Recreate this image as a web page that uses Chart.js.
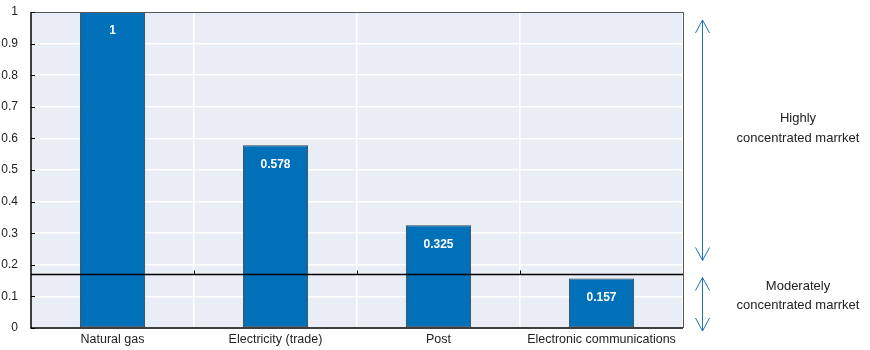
<!DOCTYPE html>
<html lang="en">
<head>
    <meta charset="UTF-8">
    <title>Market concentration</title>
    <script src="https://cdn.jsdelivr.net/npm/chart.js"></script>
    <style>
        html, body { margin: 0; padding: 0; background: #fff; }
        #wrap { width: 870px; height: 350px; position: relative; }
    </style>
</head>
<body>
    <div id="wrap"><canvas id="chart"></canvas></div>

    <script>
        // data
        const categories = ['Natural gas', 'Electricity (trade)', 'Post', 'Electronic communications'];
        const values = [1, 0.578, 0.325, 0.157];
        const valueLabels = ['1', '0.578', '0.325', '0.157'];
        const threshold = 0.17;
        const zoneLabels = [['Highly', 'concentrated marrket'], ['Moderately', 'concentrated marrket']];

        const FONT = '"Liberation Sans", Arial, sans-serif';

        // plot background, axis frame, threshold line and the side notes
        const decor = {
            id: 'decor',
            beforeDraw(chart) {
                const { ctx, chartArea: a } = chart;
                ctx.save();
                ctx.fillStyle = '#E9EDF6';
                ctx.fillRect(a.left, a.top, a.right - a.left, a.bottom - a.top);
                ctx.restore();
            },
            afterDatasetsDraw(chart) {
                const { ctx, chartArea: a, scales } = chart;
                const y = scales.y, x = scales.x;
                ctx.save();
                // frame
                ctx.strokeStyle = '#555';
                ctx.lineWidth = 1;
                ctx.beginPath();
                ctx.moveTo(a.left, a.top + 0.5);
                ctx.lineTo(a.right + 0.5, a.top + 0.5);
                ctx.lineTo(a.right + 0.5, a.bottom);
                ctx.stroke();
                ctx.strokeStyle = '#000';
                ctx.lineWidth = 1.5;
                ctx.beginPath();
                ctx.moveTo(a.left, a.top);
                ctx.lineTo(a.left, a.bottom);
                ctx.lineTo(a.right, a.bottom);
                ctx.stroke();
                // y ticks inside
                ctx.lineWidth = 1;
                y.ticks.forEach(t => {
                    const py = Math.round(y.getPixelForValue(t.value)) + 0.5;
                    ctx.beginPath();
                    ctx.moveTo(a.left, py);
                    ctx.lineTo(a.left + 4, py);
                    ctx.stroke();
                });
                // threshold
                const ty = Math.round(y.getPixelForValue(threshold)) + 0.5;
                ctx.lineWidth = 1.5;
                ctx.beginPath();
                ctx.moveTo(a.left, ty);
                ctx.lineTo(a.right, ty);
                ctx.stroke();
                ctx.lineWidth = 1;
                for (let i = 1; i < categories.length; i++) {
                    const px = Math.round((x.getPixelForValue(i - 1) + x.getPixelForValue(i)) / 2) + 0.5;
                    ctx.beginPath();
                    ctx.moveTo(px, ty);
                    ctx.lineTo(px, ty - 4);
                    ctx.stroke();
                }
                // arrows
                const ax = a.right + 19.5;
                const arrow = (y1, y2) => {
                    ctx.strokeStyle = '#1F73B7';
                    ctx.lineWidth = 1;
                    ctx.beginPath();
                    ctx.moveTo(ax, y1);
                    ctx.lineTo(ax, y2);
                    ctx.moveTo(ax - 7, y1 + 13);
                    ctx.lineTo(ax, y1);
                    ctx.lineTo(ax + 7, y1 + 13);
                    ctx.moveTo(ax - 7, y2 - 13);
                    ctx.lineTo(ax, y2);
                    ctx.lineTo(ax + 7, y2 - 13);
                    ctx.stroke();
                };
                arrow(a.top + 8, ty - 14);
                arrow(ty + 3, a.bottom + 3);
                // zone labels
                ctx.fillStyle = '#222';
                ctx.font = '13px ' + FONT;
                ctx.textAlign = 'center';
                ctx.textBaseline = 'middle';
                const cx = 798;
                ctx.fillText(zoneLabels[0][0], cx, 118);
                ctx.fillText(zoneLabels[0][1], cx, 138);
                ctx.fillText(zoneLabels[1][0], cx, 286);
                ctx.fillText(zoneLabels[1][1], cx, 305);
                // value labels
                ctx.fillStyle = '#fff';
                ctx.font = 'bold 12px ' + FONT;
                const meta = chart.getDatasetMeta(0);
                meta.data.forEach((bar, i) => {
                    ctx.fillText(valueLabels[i], bar.x, bar.y + 19);
                });
                ctx.restore();
            }
        };

        new Chart(document.getElementById('chart'), {
            type: 'bar',
            data: {
                labels: categories,
                datasets: [{
                    data: values,
                    backgroundColor: '#0070B9',
                    borderColor: '#3A4550',
                    borderWidth: 1,
                    borderSkipped: false,
                    barPercentage: 0.4,
                    categoryPercentage: 1.0
                }]
            },
            options: {
                responsive: true,
                maintainAspectRatio: false,
                animation: false,
                layout: { padding: { top: 12, right: 187, bottom: 0, left: 0 } },
                plugins: { legend: { display: false }, tooltip: { enabled: false } },
                scales: {
                    x: {
                        offset: true,
                        grid: { color: '#fff', lineWidth: 1.5, offset: true, drawTicks: false },
                        border: { display: false },
                        ticks: { color: '#222', font: { family: FONT, size: 12.5 }, padding: 4 },
                        afterFit: s => { s.height = 22; s.paddingLeft = 0; s.paddingRight = 0; }
                    },
                    y: {
                        min: 0, max: 1,
                        grid: { color: '#fff', lineWidth: 1.5, drawTicks: false },
                        border: { display: false },
                        ticks: {
                            stepSize: 0.1, color: '#222', padding: 13,
                            font: { family: FONT, size: 12 },
                            callback: v => Math.round(v * 10) / 10
                        },
                        afterFit: s => { s.width = 31; s.paddingTop = 0; s.paddingBottom = 0; }
                    }
                }
            },
            plugins: [decor]
        });
    </script>
</body>
</html>
